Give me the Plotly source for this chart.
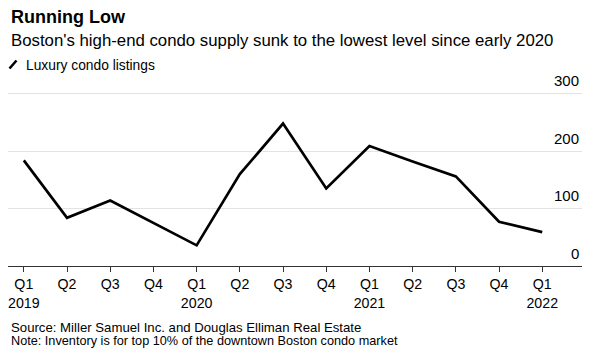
import plotly.graph_objects as go

quarters = ["Q1<br>2019", "Q2", "Q3", "Q4", "Q1<br>2020", "Q2", "Q3", "Q4",
            "Q1<br>2021", "Q2", "Q3", "Q4", "Q1<br>2022"]
listings = [184, 84, 114, 75, 36, 160, 248, 135, 209, 182, 156, 77, 59]
y_ticks = [0, 100, 200, 300]

FONT = "Liberation Sans, Arial, sans-serif"
x_idx = list(range(len(listings)))

fig = go.Figure()
fig.add_trace(go.Scatter(
    x=x_idx, y=listings, mode="lines",
    line=dict(color="#000000", width=2.7),
    showlegend=False, hoverinfo="skip",
))

# page body has an 8px margin; figure is sized to fit the 600x357 window
W, H = 592, 349
ml, mr, mt, mb = 0, 18, 80, 91
pw = W - ml - mr
ph = H - mt - mb

def px_x(px):
    return (px - 8 - ml) / pw

def px_y(py):
    return (H - mb - (py - 8)) / ph

annotations = []
annotations.append(dict(text="<b>Running Low</b>", xref="paper", yref="paper",
                        x=px_x(8.5), y=px_y(17), xanchor="left", yanchor="middle",
                        showarrow=False, font=dict(family=FONT, size=18, color="#000")))
annotations.append(dict(text="Boston's high-end condo supply sunk to the lowest level since early 2020",
                        xref="paper", yref="paper", x=px_x(8.5), y=px_y(41),
                        xanchor="left", yanchor="middle", showarrow=False,
                        font=dict(family=FONT, size=16.8, color="#000")))
annotations.append(dict(text="Luxury condo listings", xref="paper", yref="paper",
                        x=px_x(23.5), y=px_y(65), xanchor="left", yanchor="middle",
                        showarrow=False, font=dict(family=FONT, size=13.8, color="#000")))
annotations.append(dict(text="Source: Miller Samuel Inc. and Douglas Elliman Real Estate",
                        xref="paper", yref="paper", x=px_x(8.5), y=px_y(327),
                        xanchor="left", yanchor="middle", showarrow=False,
                        font=dict(family=FONT, size=13.2, color="#000")))
annotations.append(dict(text="Note: Inventory is for top 10% of the downtown Boston condo market",
                        xref="paper", yref="paper", x=px_x(8.5), y=px_y(341),
                        xanchor="left", yanchor="middle", showarrow=False,
                        font=dict(family=FONT, size=12.7, color="#000")))
for v in y_ticks:
    annotations.append(dict(text=str(v), xref="paper", yref="y", x=px_x(581), y=v,
                            xanchor="right", yanchor="middle", yshift=13,
                            showarrow=False,
                            font=dict(family=FONT, size=15, color="#000")))

fig.update_layout(
    width=W, height=H,
    margin=dict(l=ml, r=mr, t=mt, b=mb, autoexpand=False),
    paper_bgcolor="white", plot_bgcolor="white",
    annotations=annotations,
    shapes=[dict(type="line", xref="paper", yref="paper",
                 x0=px_x(9.5), y0=px_y(68.5), x1=px_x(16.5), y1=px_y(60.5),
                 line=dict(color="#000", width=2.6))],
    xaxis=dict(
        range=[-0.366, 12.92],
        tickmode="array", tickvals=x_idx, ticktext=quarters,
        showgrid=False, zeroline=False,
        showline=True, linecolor="#333", linewidth=1,
        ticks="outside", ticklen=5, tickcolor="#333", tickwidth=1,
        tickfont=dict(family=FONT, size=14.2, color="#000"),
        ticklabeloverflow="allow",
        automargin=False,
    ),
    yaxis=dict(
        range=[0, 310],
        tickvals=y_ticks, showticklabels=False,
        showgrid=True, gridcolor="#e3e3e3", gridwidth=1,
        zeroline=False, showline=False, ticks="",
        automargin=False,
    ),
)

fig.write_html("out.html")
